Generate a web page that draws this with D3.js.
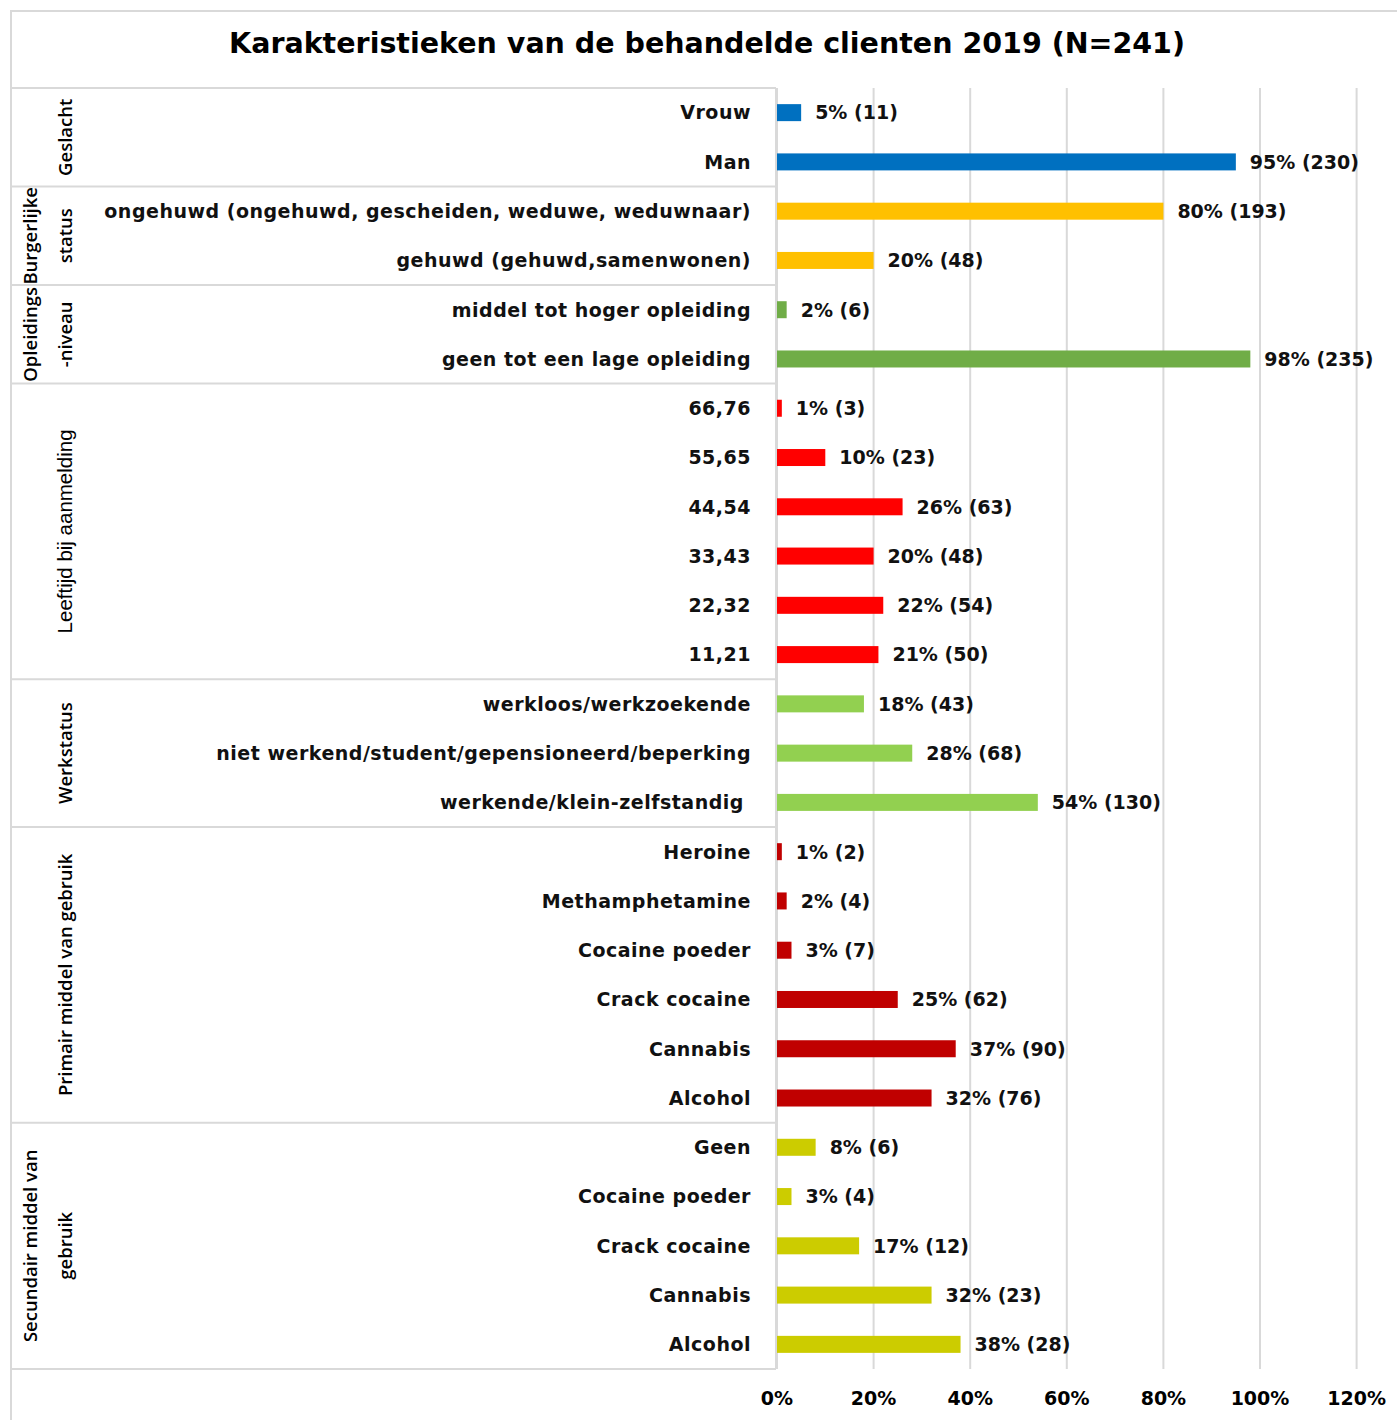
<!DOCTYPE html>
<html>
<head>
<meta charset="utf-8">
<script src="https://cdn.jsdelivr.net/npm/d3@7"></script>
<style>
  body { margin: 0; background: #fff; }
  text { white-space: pre; }
</style>
</head>
<body>
<script>
// Chart data
const categories = [
  "Vrouw", "Man",
  "ongehuwd (ongehuwd, gescheiden, weduwe, weduwnaar)", "gehuwd (gehuwd,samenwonen)",
  "middel tot hoger opleiding", "geen tot een lage opleiding",
  "66,76", "55,65", "44,54", "33,43", "22,32", "11,21",
  "werkloos/werkzoekende", "niet werkend/student/gepensioneerd/beperking", "werkende/klein-zelfstandig ",
  "Heroine", "Methamphetamine", "Cocaine poeder", "Crack cocaine", "Cannabis", "Alcohol",
  "Geen", "Cocaine poeder", "Crack cocaine", "Cannabis", "Alcohol"
];
const percents = [5, 95, 80, 20, 2, 98, 1, 10, 26, 20, 22, 21, 18, 28, 54, 1, 2, 3, 25, 37, 32, 8, 3, 17, 32, 38];
const counts = [11, 230, 193, 48, 6, 235, 3, 23, 63, 48, 54, 50, 43, 68, 130, 2, 4, 7, 62, 90, 76, 6, 4, 12, 23, 28];

const groupNames = [
  ["Geslacht"],
  ["Burgerlijke", "status"],
  ["Opleidings", "-niveau"],
  ["Leeftijd bij aanmelding"],
  ["Werkstatus"],
  ["Primair middel van gebruik"],
  ["Secundair middel van", "gebruik"]
];
const groupSizes = [2, 2, 2, 6, 3, 6, 5];
const groupColors = ["#0070C0", "#FFC000", "#70AD47", "#FF0000", "#92D050", "#C00000", "#CCCC00"];
const xTicks = [0, 20, 40, 60, 80, 100, 120];

const title = "Karakteristieken van de behandelde clienten 2019 (N=241)";

// Layout
const width = 1397, height = 1420;
const frameLeft = 11, frameTop = 11;
const tableTop = 88, plotBottom = 1369;
const labelRight = 776;
const x0 = 777, x100 = 1260;
const gridColor = "#d9d9d9";
const boldFont = "'DejaVu Sans', Verdana, sans-serif";

// group index for every row
const rowGroup = [];
groupSizes.forEach((n, g) => { for (let i = 0; i < n; i++) rowGroup.push(g); });

const svg = d3.select("body").append("svg")
  .attr("width", width)
  .attr("height", height);

svg.append("rect")
  .attr("width", width)
  .attr("height", height)
  .attr("fill", "#fff");

// Scales
const x = d3.scaleLinear().domain([0, 100]).range([x0, x100]);
const y = d3.scaleBand()
  .domain(d3.range(categories.length))
  .range([tableTop, plotBottom])
  .paddingInner(0.655)
  .paddingOuter(0.3275);
const step = y.step();

// Outer border
svg.append("rect")
  .attr("x", frameLeft)
  .attr("y", frameTop)
  .attr("width", width)
  .attr("height", height)
  .attr("fill", "none")
  .attr("stroke", gridColor)
  .attr("stroke-width", 2);

// Title
svg.append("text")
  .attr("x", 707)
  .attr("y", 53)
  .attr("text-anchor", "middle")
  .attr("font-family", boldFont)
  .attr("font-weight", "bold")
  .attr("font-size", 28.5)
  .attr("fill", "#000")
  .text(title);

// Vertical gridlines
svg.selectAll(".grid")
  .data(xTicks)
  .enter()
  .append("line")
  .attr("class", "grid")
  .attr("x1", d => x(d))
  .attr("x2", d => x(d))
  .attr("y1", tableTop)
  .attr("y2", plotBottom)
  .attr("stroke", gridColor)
  .attr("stroke-width", 2);

// Group boundaries in the label table
const boundaries = [0];
groupSizes.forEach(n => boundaries.push(boundaries[boundaries.length - 1] + n));

svg.selectAll(".sep")
  .data(boundaries)
  .enter()
  .append("line")
  .attr("class", "sep")
  .attr("x1", frameLeft)
  .attr("x2", labelRight)
  .attr("y1", d => tableTop + d * step)
  .attr("y2", d => tableTop + d * step)
  .attr("stroke", gridColor)
  .attr("stroke-width", 2);

svg.append("line")
  .attr("x1", labelRight)
  .attr("x2", labelRight)
  .attr("y1", tableTop)
  .attr("y2", plotBottom)
  .attr("stroke", gridColor)
  .attr("stroke-width", 2);

// Rotated group labels
groupNames.forEach((lines, g) => {
  const cy = tableTop + (boundaries[g] + groupSizes[g] / 2) * step;
  const cols = lines.length === 1 ? [72] : [37, 72];
  const isArial = g === 3;
  lines.forEach((line, i) => {
    svg.append("text")
      .attr("transform", `translate(${cols[i]},${cy}) rotate(-90)`)
      .attr("text-anchor", "middle")
      .attr("font-family", isArial ? "'Liberation Sans', Arial, sans-serif" : "'Open Sans', sans-serif")
      .attr("font-weight", isArial ? "normal" : 600)
      .attr("font-size", isArial ? 20.5 : 18.5)
      .attr("fill", "#000")
      .text(line);
  });
});

// Category labels
svg.selectAll(".cat")
  .data(categories)
  .enter()
  .append("text")
  .attr("class", "cat")
  .attr("x", 751)
  .attr("y", (d, i) => y(i) + y.bandwidth() / 2)
  .attr("dy", "0.36em")
  .attr("text-anchor", "end")
  .attr("font-family", boldFont)
  .attr("font-weight", "bold")
  .attr("font-size", 19)
  .attr("letter-spacing", 0.5)
  .attr("fill", "#111")
  .text(d => d);

// Bars
svg.selectAll(".bar")
  .data(percents)
  .enter()
  .append("rect")
  .attr("class", "bar")
  .attr("x", x(0))
  .attr("y", (d, i) => y(i))
  .attr("width", d => x(d) - x(0))
  .attr("height", y.bandwidth())
  .attr("fill", (d, i) => groupColors[rowGroup[i]]);

// Value labels
svg.selectAll(".val")
  .data(percents)
  .enter()
  .append("text")
  .attr("class", "val")
  .attr("x", d => x(d) + 14)
  .attr("y", (d, i) => y(i) + y.bandwidth() / 2)
  .attr("dy", "0.36em")
  .attr("font-family", boldFont)
  .attr("font-weight", "bold")
  .attr("font-size", 19)
  .attr("fill", "#111")
  .text((d, i) => `${d}% (${counts[i]})`);

// X axis tick labels
svg.selectAll(".tick")
  .data(xTicks)
  .enter()
  .append("text")
  .attr("class", "tick")
  .attr("x", d => x(d))
  .attr("y", 1405)
  .attr("text-anchor", "middle")
  .attr("font-family", boldFont)
  .attr("font-weight", "bold")
  .attr("font-size", 19)
  .attr("fill", "#000")
  .text(d => d + "%");
</script>
</body>
</html>
